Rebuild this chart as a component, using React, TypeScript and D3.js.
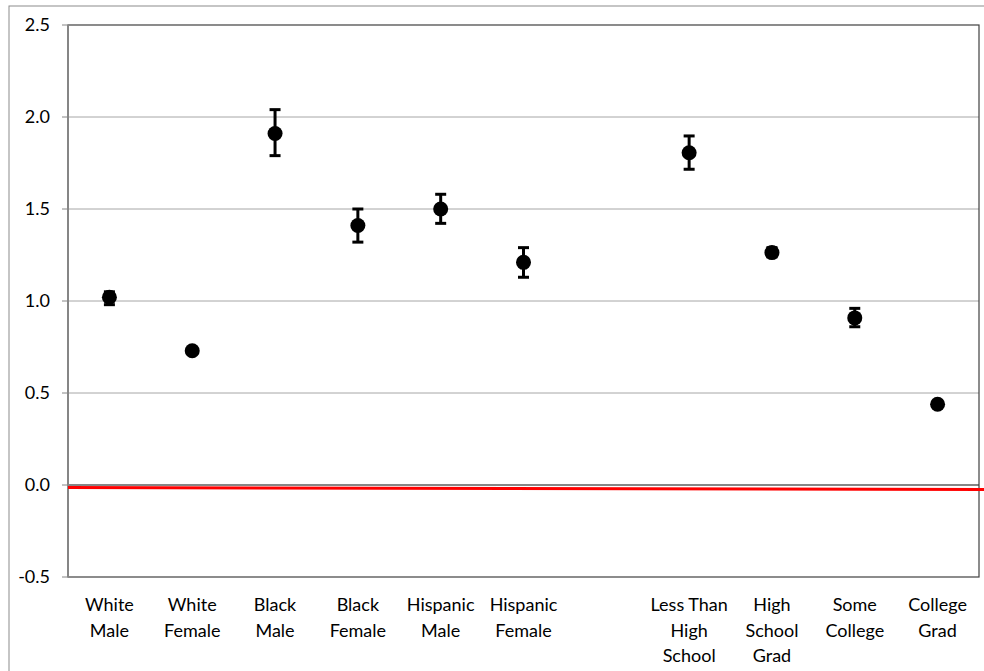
import React from "react";
import * as d3 from "d3";

const categories: string[][] = [
  ["White", "Male"],
  ["White", "Female"],
  ["Black", "Male"],
  ["Black", "Female"],
  ["Hispanic", "Male"],
  ["Hispanic", "Female"],
  [],
  ["Less Than", "High", "School"],
  ["High", "School", "Grad"],
  ["Some", "College"],
  ["College", "Grad"],
];
const values: (number | null)[] = [1.02, 0.73, 1.91, 1.41, 1.5, 1.21, null, 1.806, 1.263, 0.908, 0.439];
const upper: (number | null)[] = [1.05, 0.74, 2.04, 1.5, 1.58, 1.29, null, 1.897, 1.29, 0.96, 0.45];
const lower: (number | null)[] = [0.98, 0.72, 1.79, 1.32, 1.422, 1.129, null, 1.716, 1.24, 0.86, 0.43];
const yTicks = [-0.5, 0, 0.5, 1.0, 1.5, 2.0, 2.5];
const redLine = [-0.014, -0.024];

const W = 984;
const H = 671;
const left = 68;
const right = 979;
const top = 25;
const bottom = 577;
const font = "Lato, 'Open Sans', sans-serif";

export default function App() {
  const x = d3
    .scaleBand<number>()
    .domain(categories.map((_, i) => i))
    .range([left, right])
    .padding(0);
  const y = d3.scaleLinear().domain([-0.5, 2.5]).range([bottom, top]);
  const cx = (i: number) => (x(i) as number) + x.bandwidth() / 2;
  const redY = d3.scaleLinear().domain([left, W + 5]).range([y(redLine[0]), y(redLine[1])]);

  return (
    <svg
      width={W}
      height={H}
      style={{ position: "fixed", left: 0, top: 0, background: "#fff" }}
      fontFamily={font}
    >
      <rect x={9} y={6} width={W + 10} height={H + 10} fill="#fff" stroke="#8c8c8c" strokeWidth={1} />
      {yTicks
        .filter((t) => t > -0.5 && t < 2.5)
        .map((t) => (
          <line
            key={"g" + t}
            x1={left}
            x2={right}
            y1={y(t)}
            y2={y(t)}
            stroke={t === 0 ? "#868686" : "#a6a6a6"}
            strokeWidth={t === 0 ? 2 : 1}
          />
        ))}
      <rect x={left} y={top} width={right - left} height={bottom - top} fill="none" stroke="#404040" strokeWidth={1.2} />
      <line x1={left} x2={left} y1={top} y2={bottom} stroke="#868686" strokeWidth={2} />
      {yTicks.map((t) => (
        <g key={"t" + t}>
          <line x1={left - 6} x2={left} y1={y(t)} y2={y(t)} stroke="#868686" strokeWidth={1} />
          <text x={50} y={y(t)} dy="0.35em" textAnchor="end" fontSize={18} fill="#000">
            {t.toFixed(1)}
          </text>
        </g>
      ))}
      <line x1={left} x2={W + 5} y1={redY(left)} y2={redY(W + 5)} stroke="#ff0000" strokeWidth={3} />
      {values.map((v, i) =>
        v === null ? null : (
          <g key={"p" + i}>
            <line x1={cx(i)} x2={cx(i)} y1={y(upper[i] as number)} y2={y(lower[i] as number)} stroke="#000" strokeWidth={3} />
            <line x1={cx(i) - 5.5} x2={cx(i) + 5.5} y1={y(upper[i] as number)} y2={y(upper[i] as number)} stroke="#000" strokeWidth={3} />
            <line x1={cx(i) - 5.5} x2={cx(i) + 5.5} y1={y(lower[i] as number)} y2={y(lower[i] as number)} stroke="#000" strokeWidth={3} />
            <circle cx={cx(i)} cy={y(v)} r={7.5} fill="#000" />
          </g>
        )
      )}
      {categories.map((lines, i) => (
        <text key={"x" + i} x={cx(i)} textAnchor="middle" fontSize={18} fill="#000">
          {lines.map((l, j) => (
            <tspan key={j} x={cx(i)} y={611 + j * 25.5}>
              {l}
            </tspan>
          ))}
        </text>
      ))}
    </svg>
  );
}
